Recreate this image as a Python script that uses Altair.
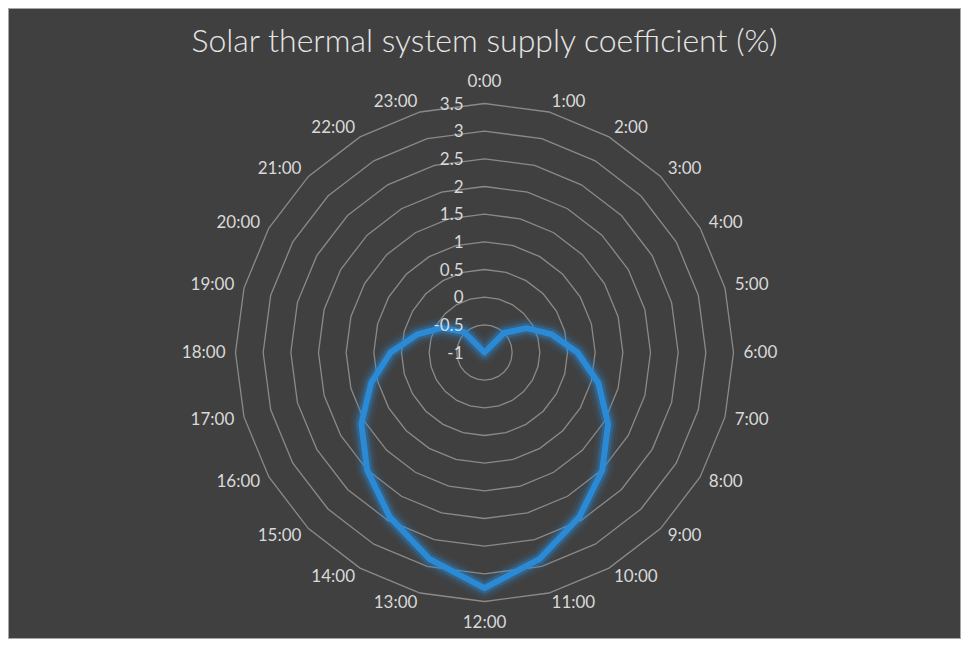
import altair as alt
import pandas as pd

# ---------------- data ----------------
hours = ["0:00", "1:00", "2:00", "3:00", "4:00", "5:00", "6:00", "7:00",
         "8:00", "9:00", "10:00", "11:00", "12:00", "13:00", "14:00", "15:00",
         "16:00", "17:00", "18:00", "19:00", "20:00", "21:00", "22:00", "23:00"]
values = [-1, -1, -1, -0.5, -0.12, 0.26, 0.68, 1.13,
          1.58, 2.01, 2.43, 2.86, 3.26, 2.86, 2.43, 2.0,
          1.57, 1.12, 0.7, 0.26, -0.11, -0.48, -1, -1]
tick_values = [-1, -0.5, 0, 0.5, 1, 1.5, 2, 2.5, 3, 3.5]
tick_labels = ["-1", "-0.5", "0", "0.5", "1", "1.5", "2", "2.5", "3", "3.5"]
ring_levels = [-0.5, 0, 0.5, 1, 1.5, 2, 2.5, 3, 3.5]
title_text = "Solar thermal system supply coefficient (%)"

AXIS_MIN = tick_values[0]
AXIS_MAX = tick_values[-1]
N = len(hours)

# ---------------- layout ----------------
W, H = 953, 631
RADIUS_PX = 249.0
PX = RADIUS_PX / (AXIS_MAX - AXIS_MIN)
CX, CY = 476.5, 344.5
xs = alt.Scale(domain=[-CX / PX, (W - CX) / PX], nice=False, zero=False)
ys = alt.Scale(domain=[-(H - CY) / PX, CY / PX], nice=False, zero=False)
X = alt.X("x:Q", scale=xs, axis=None)
Y = alt.Y("y:Q", scale=ys, axis=None)

FONT = "Lato"
TXT = "#d9d9d9"
BLUE = "#2a8ad6"

# ---------------- tables built from the lists ----------------
line_df = pd.DataFrame({
    "idx": list(range(N + 1)),
    "hour": hours + [hours[0]],
    "value": values + [values[0]],
})
ring_df = pd.DataFrame([{"level": lv, "idx": i} for lv in ring_levels for i in range(N + 1)])
lab_df = pd.DataFrame({"idx": list(range(N)), "hour": hours})
tick_df = pd.DataFrame({"level": tick_values, "label": tick_labels})


def polar(chart, rexpr):
    return chart.transform_calculate(
        r=rexpr, th=f"datum.idx * 2 * PI / {N}"
    ).transform_calculate(
        x="datum.r * sin(datum.th)", y="datum.r * cos(datum.th)"
    )


rings = polar(alt.Chart(ring_df), f"datum.level - ({AXIS_MIN})").mark_line(
    color="#8a8a8a", strokeWidth=1.3
).encode(X, Y, detail="level:N", order="idx:Q")

heart_base = polar(alt.Chart(line_df), f"datum.value - ({AXIS_MIN})")


def heart_layer(width, opacity):
    return heart_base.mark_line(color=BLUE, strokeWidth=width, opacity=opacity,
                                strokeJoin="round", strokeCap="round").encode(X, Y, order="idx:Q")


glow_layers = [heart_layer(22, 0.08), heart_layer(16, 0.14), heart_layer(11, 0.3)]
heart = heart_layer(6, 1.0)

GAP = 10.0 / PX
lab_base = polar(alt.Chart(lab_df), f"{AXIS_MAX - AXIS_MIN} + {GAP}")
lab_right = lab_base.transform_filter(f"datum.idx > 0 && datum.idx < {N // 2}").mark_text(
    align="left", baseline="middle", font=FONT, fontSize=17, color=TXT
).encode(X, Y, text="hour:N")
lab_left = lab_base.transform_filter(f"datum.idx > {N // 2}").mark_text(
    align="right", baseline="middle", font=FONT, fontSize=17, color=TXT
).encode(X, Y, text="hour:N")
lab_top = lab_base.transform_filter("datum.idx == 0").mark_text(
    align="center", baseline="bottom", font=FONT, fontSize=17, color=TXT, dy=-3
).encode(X, Y, text="hour:N")
lab_bot = lab_base.transform_filter(f"datum.idx == {N // 2}").mark_text(
    align="center", baseline="top", font=FONT, fontSize=17, color=TXT, dy=3
).encode(X, Y, text="hour:N")

ticks = alt.Chart(tick_df).transform_calculate(
    r=f"datum.level - ({AXIS_MIN})"
).mark_text(align="right", baseline="middle", font=FONT, fontSize=17, color=TXT, dx=-21, dy=1).encode(
    x=alt.XDatum(0, scale=xs, axis=None),
    y=alt.Y("r:Q", scale=ys, axis=None),
    text="label:N",
)

title = alt.Chart(pd.DataFrame({"t": [title_text]})).mark_text(
    align="center", baseline="middle", font=FONT, fontSize=32, fontWeight=300,
    color="#e6e6e6"
).encode(
    x=alt.XDatum(0, scale=xs, axis=None),
    y=alt.value(34),
    text="t:N",
)

chart = alt.layer(
    rings, *glow_layers, heart, ticks, lab_right, lab_left, lab_top, lab_bot, title
).properties(
    width=W, height=H,
    autosize=alt.AutoSizeParams(type="none"),
    padding=0,
    background="#404040",
).configure_view(stroke="#a6a6a6", strokeWidth=2)

chart.save("out.html", embed_options={"renderer": "svg", "actions": False})
